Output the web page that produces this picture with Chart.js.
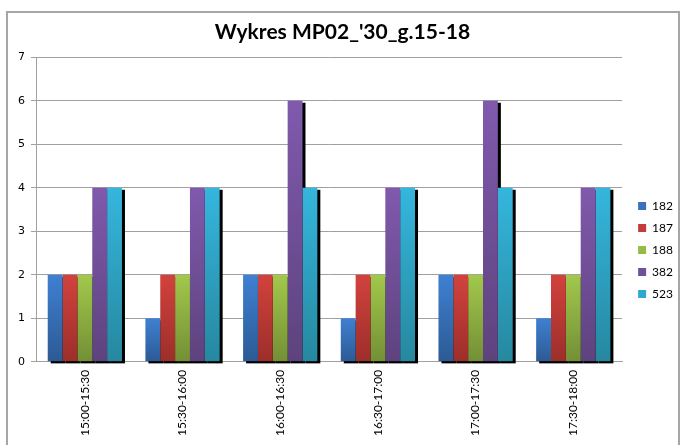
<!DOCTYPE html>
<html>
<head>
<meta charset="utf-8">
<script src="https://cdn.jsdelivr.net/npm/chart.js@4.4.1/dist/chart.umd.min.js"></script>
<style>
  html, body { margin: 0; padding: 0; background: #fff; }
  #wrap { position: relative; width: 683px; height: 445px; }
</style>
</head>
<body>
<div id="wrap"><canvas id="chart_mp02"></canvas></div>
<script>
// przedziały czasowe
const categories = ['15:00-15:30', '15:30-16:00', '16:00-16:30', '16:30-17:00', '17:00-17:30', '17:30-18:00'];

// serie
const seriesNames = ['182', '187', '188', '382', '523'];
const s182 = [2, 1, 2, 1, 2, 1];
const s187 = [2, 2, 2, 2, 2, 2];
const s188 = [2, 2, 2, 2, 2, 2];
const s382 = [4, 4, 6, 4, 6, 4];
const s523 = [4, 4, 4, 4, 4, 4];

// kolory: [góra, dół]
const colors = [
    ['#3f80d2', '#2c5a94'],
    ['#d2423d', '#9c2e2a'],
    ['#a2c84c', '#738f35'],
    ['#8059ad', '#5d437e'],
    ['#35b6dd', '#26889f']
];
const legendColors = ['#3a70c0', '#c23c38', '#94bc44', '#70509c', '#2ea8cc'];

function gradientFor(idx) {
    return (ctx) => {
        const chart = ctx.chart;
        const y = chart.scales.y;
        if (!y || ctx.type !== 'data') return legendColors[idx];
        const top = y.getPixelForValue(ctx.raw);
        const bottom = y.getPixelForValue(0);
        if (!isFinite(top) || !isFinite(bottom) || top === bottom) return legendColors[idx];
        const g = chart.ctx.createLinearGradient(0, top, 0, bottom);
        g.addColorStop(0, colors[idx][0]);
        g.addColorStop(1, colors[idx][1]);
        return g;
    };
}

// czarny cień za słupkami
const shadowPlugin = {
    id: 'barShadow',
    beforeDatasetsDraw(chart) {
        const c = chart.ctx;
        c.save();
        c.fillStyle = '#000';
        chart.data.datasets.forEach((ds, i) => {
            const meta = chart.getDatasetMeta(i);
            meta.data.forEach(bar => {
                const w = bar.width;
                c.fillRect(bar.x - w / 2 + 3, bar.y + 2, w, bar.base - bar.y);
            });
        });
        c.restore();
    }
};

// ramka wykresu + przesunięcie legendy
const framePlugin = {
    id: 'frame',
    afterLayout(chart) {
        if (chart.legend) {
            chart.legend.top += 28;
            chart.legend.bottom += 28;
            chart.legend.left += 6;
            chart.legend.right += 6;
        }
    },
    beforeDraw(chart) {
        const c = chart.ctx;
        c.save();
        c.strokeStyle = '#a6a6a6';
        c.lineWidth = 2;
        c.strokeRect(7, 12, 672, 450);
        c.restore();
    }
};

const seriesData = [s182, s187, s188, s382, s523];

const ctx = document.getElementById('chart_mp02').getContext('2d');
const chart = new Chart(ctx, {
    type: 'bar',
    data: {
        labels: categories,
        datasets: seriesNames.map((name, i) => ({
            label: name,
            data: seriesData[i],
            backgroundColor: gradientFor(i),
            borderWidth: 0,
            categoryPercentage: 0.76,
            barPercentage: 1.0
        }))
    },
    options: {
        animation: false,
        responsive: true,
        maintainAspectRatio: false,
        layout: {
            padding: { left: 8, right: 6, top: 0, bottom: 1 }
        },
        plugins: {
            title: {
                display: true,
                text: "Wykres MP02_'30_g.15-18",
                color: '#000',
                font: { family: 'Lato', size: 21, weight: 'bold' },
                padding: { top: 20, bottom: 12 }
            },
            legend: {
                display: true,
                position: 'right',
                labels: {
                    boxWidth: 8,
                    boxHeight: 8,
                    padding: 10,
                    color: '#000',
                    font: { family: 'Lato', size: 12 },
                    generateLabels: (chart) => chart.data.datasets.map((ds, i) => ({
                        text: ds.label,
                        fillStyle: legendColors[i],
                        strokeStyle: legendColors[i],
                        lineWidth: 0,
                        hidden: false,
                        datasetIndex: i
                    }))
                }
            },
            tooltip: { enabled: false }
        },
        scales: {
            x: {
                grid: { display: false, drawTicks: false },
                border: { color: '#a0a0a0', width: 1 },
                ticks: {
                    color: '#000',
                    font: { family: 'Lato', size: 12 },
                    maxRotation: 90,
                    minRotation: 90,
                    padding: 8
                }
            },
            y: {
                min: 0,
                max: 7,
                afterFit: (scale) => { scale.width = 28; },
                grid: { color: '#a0a0a0', lineWidth: 1, tickLength: 5 },
                border: { color: '#a0a0a0', width: 1 },
                ticks: {
                    stepSize: 1,
                    color: '#000',
                    font: { family: 'DejaVu Sans', size: 11 },
                    padding: 6
                }
            }
        }
    },
    plugins: [framePlugin, shadowPlugin]
});
</script>
</body>
</html>
